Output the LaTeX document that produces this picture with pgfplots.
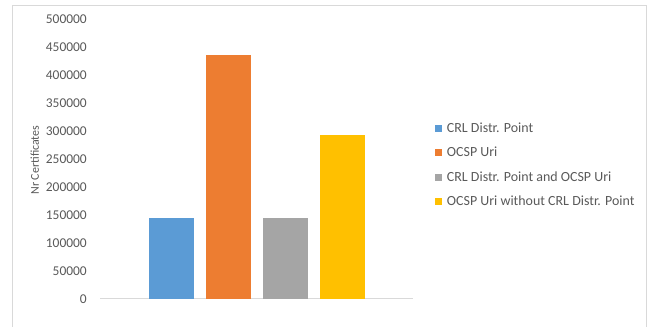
\documentclass[border=0pt]{standalone}
\usepackage{fontspec}
\setmainfont{Carlito}
\usepackage{pgfplots}
\pgfplotsset{compat=1.18}
\definecolor{cblue}{HTML}{5B9BD5}
\definecolor{corange}{HTML}{ED7D31}
\definecolor{cgray}{HTML}{A5A5A5}
\definecolor{cyellow}{HTML}{FFC000}
\definecolor{ctext}{HTML}{595959}
\definecolor{cline}{HTML}{D9D9D9}
\begin{document}
\begin{tikzpicture}[x=1bp,y=1bp]
\path[use as bounding box] (0,0) rectangle (653,326);
\draw[cline, line width=0.8bp] (12,-2) -- (12,321) -- (646,321) -- (646,-2);
\begin{axis}[
  at={(100bp,27.3bp)}, anchor=south west,
  scale only axis, width=313bp, height=280bp,
  xmin=-1, xmax=1, ymin=0, ymax=500000,
  ybar=12bp, bar width=45bp,
  xtick=\empty,
  ytick={0,50000,...,500000},
  scaled y ticks=false,
  /pgf/number format/fixed,
  /pgf/number format/1000 sep={},
  /pgf/number format/assume math mode=true,
  axis x line*=bottom, axis y line*=left,
  x axis line style={draw=cline, line width=0.8bp},
  y axis line style={draw=none},
  major tick length=0pt,
  yticklabel style={font=\fontsize{13.5}{15}\selectfont, text=ctext, inner sep=0pt, xshift=-13bp},
  ylabel={Nr Certificates},
  ylabel style={font=\fontsize{12}{14}\selectfont, text=ctext, at={(axis description cs:-0.208,0.495)}, rotate=0, anchor=center},
  legend style={at={(axis description cs:1.06,0.4775)}, anchor=west, draw=none, fill=none,
    font=\fontsize{14}{16}\selectfont, text=ctext, row sep=9bp,
    /tikz/every odd column/.append style={column sep=3bp}},
  legend cell align=left,
  legend image code/.code={\fill[#1,draw=none] (0bp,-3.5bp) rectangle (7bp,3.5bp);},
]
\addplot[fill=cblue, draw=none] coordinates {(0,143500)};
\addplot[fill=corange, draw=none] coordinates {(0,435200)};
\addplot[fill=cgray, draw=none] coordinates {(0,143500)};
\addplot[fill=cyellow, draw=none] coordinates {(0,291800)};
\legend{CRL Distr. Point, OCSP Uri, CRL Distr. Point and OCSP Uri, OCSP Uri without CRL Distr. Point}
\end{axis}
\end{tikzpicture}
\end{document}
